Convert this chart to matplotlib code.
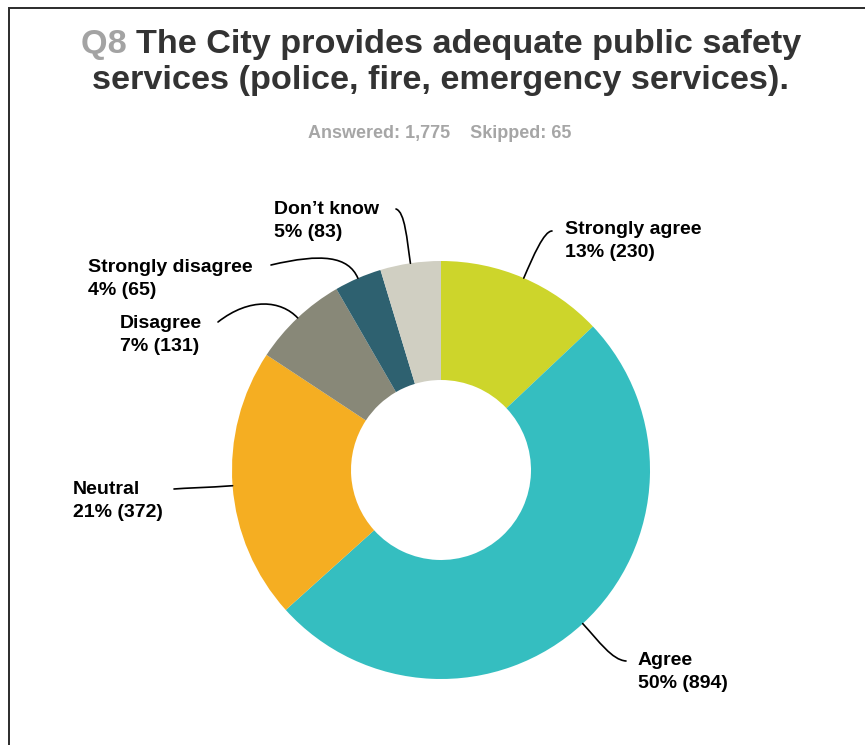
import matplotlib
matplotlib.use("Agg")
import numpy as np
import matplotlib.pyplot as plt
from matplotlib.path import Path
from matplotlib.patches import PathPatch

plt.rcParams['font.family'] = ['Liberation Sans', 'DejaVu Sans']

# Survey responses
categories = ["Strongly agree", "Agree", "Neutral", "Disagree",
              "Strongly disagree", "Don\u2019t know"]
counts = [230, 894, 372, 131, 65, 83]
percents = [13, 50, 21, 7, 4, 5]
colors = ["#CDD52B", "#35BEC0", "#F5AE22", "#888878", "#2E6170", "#D0CFC2"]
answered = 1775
skipped = 65

W, H = 865, 745
fig = plt.figure(figsize=(W / 100, H / 100), dpi=100)
ax = fig.add_axes([0, 0, 1, 1])

cx, cy, R, ring = 441, 470, 209, 119

# y axis runs downward, so counterclock in data space turns clockwise on screen
wedges, _ = ax.pie(counts, colors=colors, startangle=-90, counterclock=True,
                   center=(cx, cy), radius=R,
                   wedgeprops=dict(width=ring, linewidth=0))
ax.set_xlim(0, W)
ax.set_ylim(H, 0)
ax.set_aspect('auto')
ax.axis('off')

# frame
ax.plot([8.5, 8.5, W + 5], [H + 5, 7.5, 7.5], color="#2b2b2b", lw=1.4,
        solid_joinstyle='miter', clip_on=False)

# title with grey question number
renderer = fig.canvas.get_renderer()
tfs = 24.7
q = ax.text(0, 45, "Q8 ", fontsize=tfs, fontweight='bold', color="#A3A3A3",
            va='center', ha='left')
rest = ax.text(0, 45, "The City provides adequate public safety", fontsize=tfs,
               fontweight='bold', color="#333333", va='center', ha='left')
wq = q.get_window_extent(renderer).width
wr = rest.get_window_extent(renderer).width
x0 = 441.5 - (wq + wr) / 2
q.set_x(x0)
rest.set_x(x0 + wq)
ax.text(441, 80, "services (police, fire, emergency services).", fontsize=tfs,
        fontweight='bold', color="#333333", va='center', ha='center')

ax.text(440, 134, f"Answered: {answered:,}    Skipped: {skipped}", fontsize=13,
        fontweight='bold', color="#A6A6A6", va='center', ha='center')

# label positions (left edge of text, baseline of first line) and leader ends
label_pos = [(565, 234), (638, 665), (73, 494), (120, 328), (88, 272), (274, 214)]
leader_end = [(552, 231), (626, 661), (174, 489), (218, 322), (271, 265), (396, 209)]
leader_c2 = [(544, 231), (612, 660), (186, 488), (250, 297), (322, 253), (405, 212)]

total = sum(counts)
cum = 0
for i, (cat, n, p) in enumerate(zip(categories, counts, percents)):
    mid = (cum + n / 2) / total * 2 * np.pi
    cum += n
    ux, uy = np.sin(mid), -np.cos(mid)
    sx, sy = cx + R * ux, cy + R * uy
    c1 = (sx + 24 * ux, sy + 24 * uy)
    verts = [(sx, sy), c1, leader_c2[i], leader_end[i]]
    codes = [Path.MOVETO, Path.CURVE4, Path.CURVE4, Path.CURVE4]
    ax.add_patch(PathPatch(Path(verts, codes), fill=False, color="black",
                           lw=1.2, capstyle='round'))
    lx, ly = label_pos[i]
    ax.text(lx, ly, cat, fontsize=14, fontweight='bold', color="black",
            ha='left', va='baseline')
    ax.text(lx, ly + 23, f"{p}% ({n})", fontsize=14, fontweight='bold',
            color="black", ha='left', va='baseline')

fig.savefig("out.png", dpi=100)
